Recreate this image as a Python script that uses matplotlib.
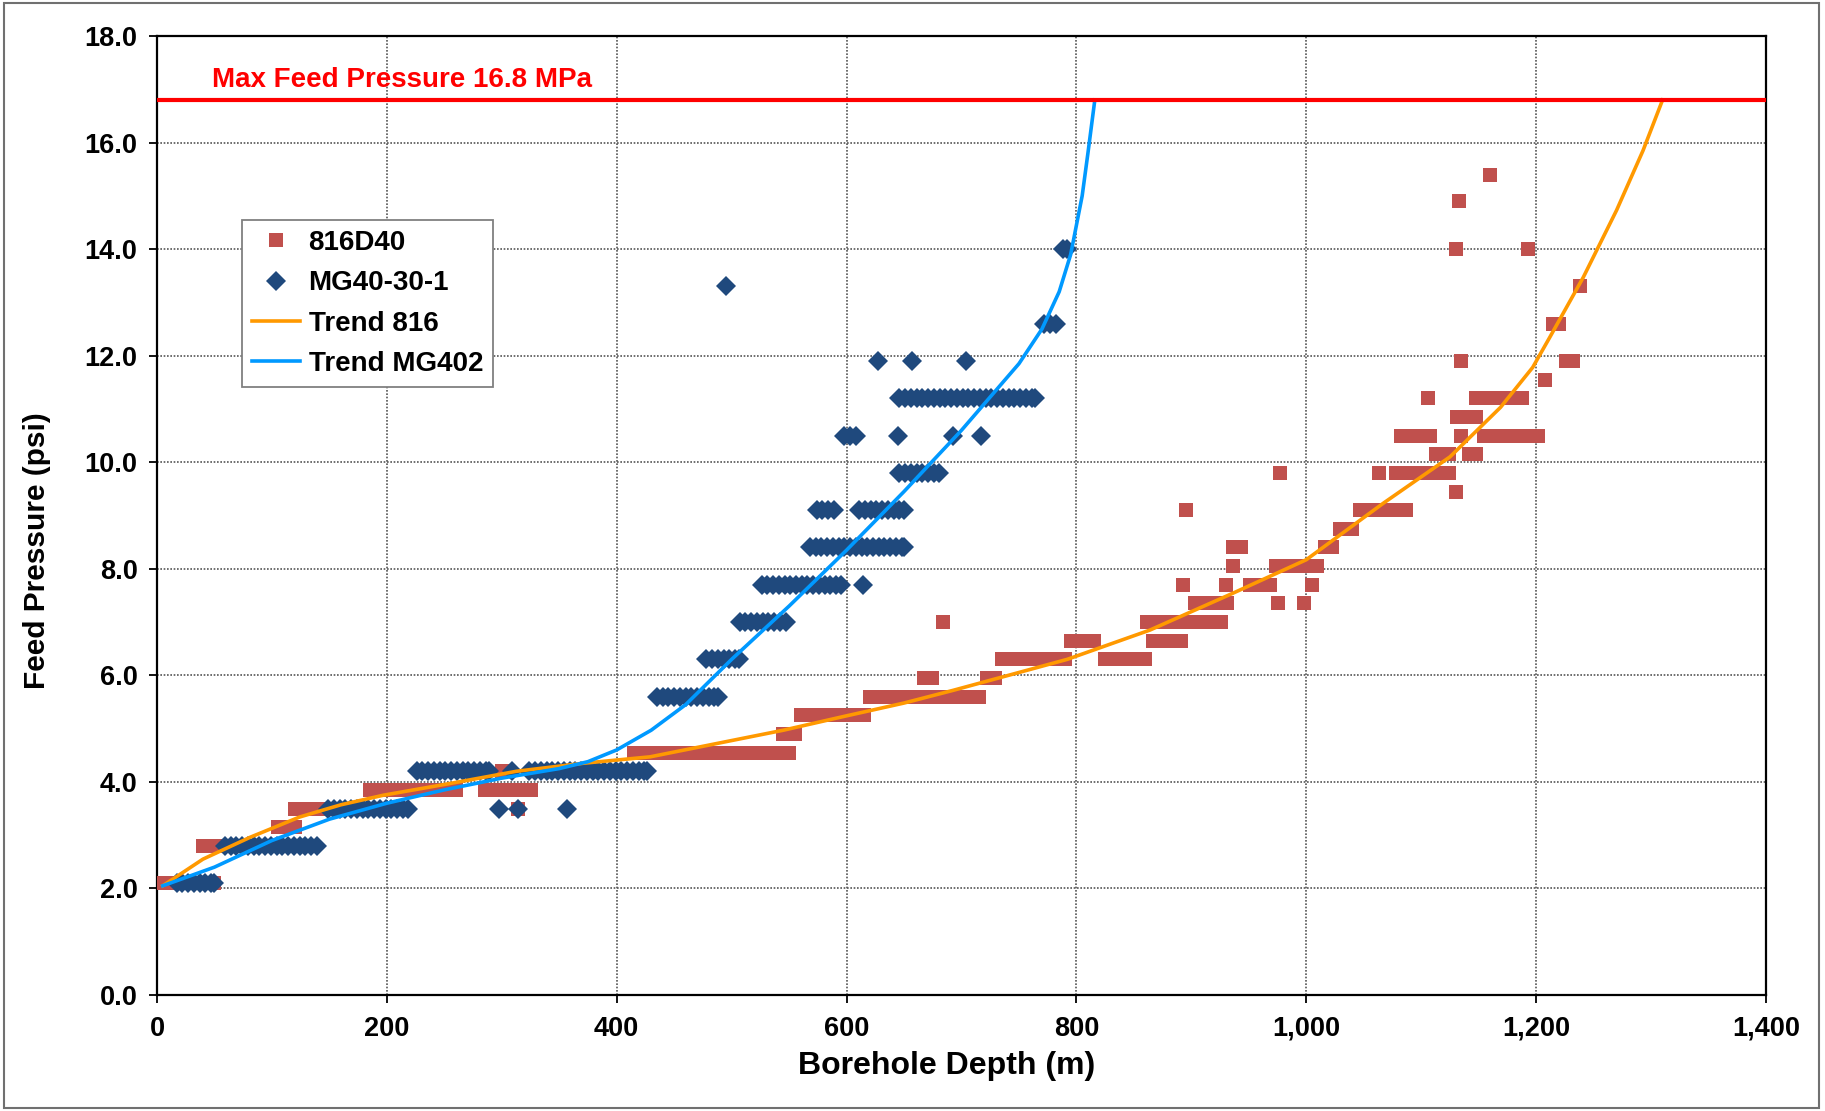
import matplotlib
matplotlib.use("Agg")
import matplotlib.pyplot as plt
from matplotlib.patches import Rectangle
from matplotlib.ticker import FuncFormatter

plt.rcParams['font.family'] = ['Liberation Sans', 'DejaVu Sans']
plt.rcParams['font.weight'] = 'bold'

# ---------------- data ----------------
# 816D40 : pressure levels (psi) and the depths (m) recorded at each level
s816_levels = [2.10, 2.80, 3.15, 3.50, 3.85, 4.20, 4.55, 4.90, 5.25, 5.60, 5.95,
               6.30, 6.65, 7.00, 7.35, 7.70, 8.05, 8.40, 8.75, 9.10, 9.45, 9.80,
               10.15, 10.50, 10.85, 11.20, 11.55, 11.90, 12.60, 13.30, 14.00, 14.90, 15.40]
s816_depths = [
    [5, 10, 15, 20, 25, 30, 35, 40, 45, 50],
    [40, 45, 50, 55, 60],
    [105, 110, 115, 120],
    [120, 125, 130, 135, 140, 145, 150, 314],
    [185, 190, 195, 200, 205, 210, 215, 220, 225, 230, 235, 240, 245, 250, 255, 260,
     285, 290, 295, 300, 305, 310, 315, 320, 325],
    [300],
    [415, 420, 425, 430, 435, 440, 445, 450, 455, 460, 465, 470, 475, 480, 485, 490,
     495, 500, 505, 510, 515, 520, 525, 530, 535, 540, 545, 550],
    [545, 550, 555],
    [560, 565, 570, 575, 580, 585, 590, 595, 600, 605, 610, 615],
    [620, 625, 630, 635, 640, 645, 650, 655, 660, 665, 670, 675, 680, 685, 690, 695,
     700, 705, 710, 715],
    [667, 674, 722, 729],
    [735, 740, 745, 750, 755, 760, 765, 770, 775, 780, 785, 790,
     825, 830, 835, 840, 845, 850, 855, 860],
    [795, 800, 805, 810, 815, 867, 872, 877, 882, 887, 891],
    [684, 861, 866, 871, 876, 881, 886, 891, 896, 901, 906, 911, 916, 921, 926],
    [903, 908, 913, 918, 923, 928, 931, 975, 998],
    [893, 930, 951, 956, 961, 966, 968, 1005],
    [936, 974, 979, 984, 989, 994, 999, 1004, 1009],
    [936, 943, 1016, 1022],
    [1029, 1034, 1040],
    [895, 1047, 1052, 1057, 1062, 1067, 1072, 1077, 1082, 1087],
    [1130],
    [977, 1063, 1078, 1083, 1088, 1093, 1098, 1103, 1108, 1113, 1118, 1124],
    [1113, 1118, 1124, 1142, 1148],
    [1082, 1087, 1092, 1097, 1102, 1108, 1135, 1155, 1160, 1165, 1170, 1175, 1180,
     1185, 1190, 1195, 1200, 1202],
    [1131, 1136, 1141, 1146, 1148],
    [1106, 1148, 1153, 1158, 1163, 1168, 1173, 1178, 1183, 1188],
    [1208],
    [1135, 1226, 1232],
    [1215, 1220],
    [1238],
    [1130, 1193],
    [1133],
    [1160],
]

# MG40-30-1 : pressure levels (psi) and depths (m)
mg_levels = [2.1, 2.8, 3.5, 4.2, 5.6, 6.3, 7.0, 7.7, 8.4, 9.1, 9.8, 10.5, 11.2,
             11.9, 12.6, 13.3, 14.0]
mg_depths = [
    [17, 22, 27, 32, 37, 42, 47, 50],
    [59, 64, 69, 74, 79, 84, 89, 94, 99, 104, 109, 114, 119, 124, 129, 134, 139],
    [149, 154, 159, 164, 169, 174, 179, 184, 189, 194, 199, 204, 209, 214, 218,
     298, 314, 357],
    [226, 231, 236, 241, 246, 251, 256, 261, 266, 271, 276, 281, 286, 289, 309,
     324, 329, 334, 339, 344, 349, 354, 359, 364, 369, 374, 379, 384, 389, 394,
     399, 404, 409, 414, 419, 424, 426],
    [435, 440, 445, 450, 455, 460, 465, 470, 475, 480, 485, 488],
    [478, 483, 488, 493, 498, 503, 506],
    [507, 512, 517, 522, 527, 532, 537, 542, 547],
    [526, 531, 536, 541, 546, 551, 556, 561, 566, 571, 576, 581, 586, 591, 595, 614],
    [568, 573, 578, 583, 588, 593, 598, 603, 608, 613, 618, 623, 628, 633, 638,
     643, 648, 650],
    [574, 579, 584, 589, 611, 616, 621, 626, 631, 636, 641, 646, 650],
    [646, 651, 656, 661, 666, 671, 676, 680],
    [598, 603, 608, 645, 693, 717],
    [646, 651, 656, 661, 666, 671, 676, 681, 686, 691, 696, 701, 706, 711, 716,
     721, 726, 731, 736, 741, 746, 751, 756, 761, 764],
    [627, 657, 704],
    [772, 777, 782],
    [495],
    [788, 792],
]

# trend lines
trend816_x = [5, 40, 81, 124, 160, 197, 255, 313, 371, 429, 487, 545, 600, 650, 693,
              734, 792, 864, 936, 1000, 1067, 1125, 1169, 1197, 1212, 1241, 1270,
              1293, 1310]
trend816_y = [2.05, 2.55, 2.96, 3.34, 3.57, 3.75, 3.97, 4.2, 4.35, 4.47, 4.72, 4.97,
              5.24, 5.48, 5.72, 5.96, 6.3, 6.85, 7.54, 8.17, 9.23, 10.1, 11.03,
              11.78, 12.35, 13.47, 14.73, 15.85, 16.8]
trendmg_x = [5, 50, 100, 150, 200, 250, 300, 350, 375, 400, 430, 460, 500, 550, 600,
             650, 700, 750, 770, 785, 795, 805, 810, 816]
trendmg_y = [2.05, 2.4, 2.9, 3.3, 3.6, 3.85, 4.07, 4.25, 4.38, 4.6, 4.97, 5.45, 6.3,
             7.3, 8.35, 9.45, 10.6, 11.85, 12.5, 13.2, 13.9, 15.0, 15.8, 16.8]

max_pressure = 16.8
max_label = "Max Feed Pressure 16.8 MPa"
x_ticks = [0, 200, 400, 600, 800, 1000, 1200, 1400]
y_ticks = [0, 2, 4, 6, 8, 10, 12, 14, 16, 18]

# flatten rows into points
x816 = [d for lev, ds in zip(s816_levels, s816_depths) for d in ds]
y816 = [lev for lev, ds in zip(s816_levels, s816_depths) for d in ds]
xmg = [d for lev, ds in zip(mg_levels, mg_depths) for d in ds]
ymg = [lev for lev, ds in zip(mg_levels, mg_depths) for d in ds]

# ---------------- figure ----------------
W, H = 1825, 1111
fig = plt.figure(figsize=(W / 100, H / 100), dpi=100)
ax = fig.add_axes([157 / W, (H - 995) / H, 1609 / W, 959 / H])

fig.patches.append(Rectangle((4 / W, 3 / H), 1815 / W, 1105 / H, transform=fig.transFigure,
                             fill=False, edgecolor='#707070', linewidth=1.5))

ax.plot(x816, y816, linestyle='none', marker='s', markersize=9.5,
        color='#C0504D', markeredgewidth=0, label='816D40', zorder=3)
ax.plot(xmg, ymg, linestyle='none', marker='D', markersize=10.5,
        color='#1F497D', markeredgewidth=0, label='MG40-30-1', zorder=4)
ax.plot(trend816_x, trend816_y, color='#FF9900', linewidth=2.6, label='Trend 816', zorder=5)
ax.plot(trendmg_x, trendmg_y, color='#0099FF', linewidth=2.6, label='Trend MG402', zorder=5)
ax.axhline(max_pressure, color='#FF0000', linewidth=3, zorder=6)
ax.text(48, 17.04, max_label, color='#FF0000', fontsize=20, fontweight='bold',
        ha='left', va='baseline', zorder=7)

ax.set_xlim(0, 1400)
ax.set_ylim(0, 18)
ax.set_xticks(x_ticks)
ax.set_yticks(y_ticks)
ax.xaxis.set_major_formatter(FuncFormatter(lambda v, p: f"{v:,.0f}"))
ax.yaxis.set_major_formatter(FuncFormatter(lambda v, p: f"{v:.1f}"))
ax.tick_params(axis='both', direction='out', length=6, width=1.3, labelsize=19.5, pad=9)
ax.tick_params(axis='y', pad=8)
ax.grid(True, color='#555555', linestyle=(0, (1, 1)), linewidth=1.2)
ax.set_axisbelow(True)
for sp in ax.spines.values():
    sp.set_linewidth(1.6)
    sp.set_color('black')

ax.set_xlabel('Borehole Depth (m)', fontsize=23, fontweight='bold')
ax.set_ylabel('Feed Pressure (psi)', fontsize=21.5, fontweight='bold')
ax.xaxis.set_label_coords(0.491, -0.058)
ax.yaxis.set_label_coords(-0.066, 0.463)

leg = ax.legend(loc='upper left', bbox_to_anchor=(0.0528, 0.808), borderaxespad=0,
                fontsize=20, frameon=True, fancybox=False, framealpha=1,
                edgecolor='#808080', handlelength=1.75, handletextpad=0.3,
                labelspacing=0.52, borderpad=0.35, numpoints=1)
leg.get_frame().set_linewidth(1.3)

fig.savefig('out.png', dpi=100)
